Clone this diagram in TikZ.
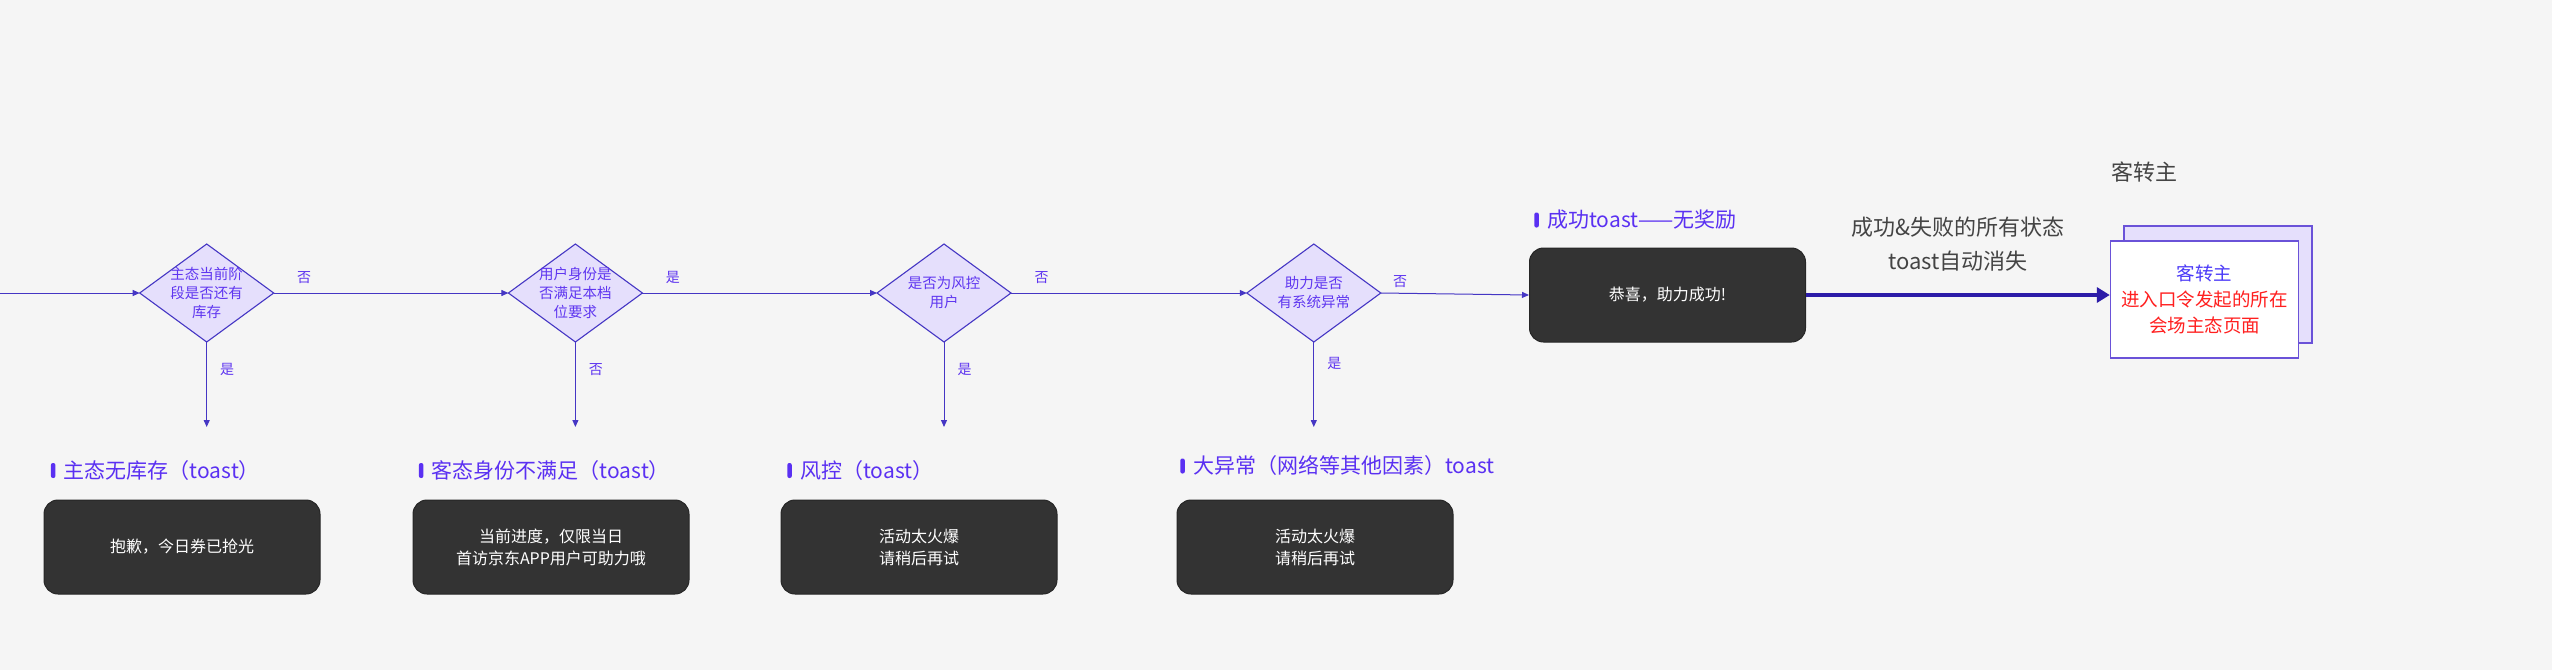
\documentclass[tikz,border=0pt]{standalone}
\usepackage{fontspec}
\setmainfont{Noto Sans CJK SC}
\usepackage{xcolor}
\usetikzlibrary{shapes.geometric,arrows.meta,positioning}
\definecolor{bgc}{HTML}{F5F5F5}
\definecolor{linec}{HTML}{4536C4}
\definecolor{diafill}{HTML}{E5DFFC}
\definecolor{diatxt}{HTML}{5F36F0}
\definecolor{headc}{HTML}{5A30F2}
\definecolor{toastc}{HTML}{333333}
\definecolor{grayt}{HTML}{444444}
\definecolor{bigc}{HTML}{2C1CA8}
\definecolor{boxline}{HTML}{6A52D8}
\definecolor{kzblue}{HTML}{4B3AF8}
\definecolor{kzred}{HTML}{FF1F1F}

\begin{document}
\begin{tikzpicture}[x=1pt,y=-1pt,
  dia/.style={diamond,draw=linec,fill=diafill,line width=1.1pt,minimum width=134pt,minimum height=98pt,inner sep=0pt,outer sep=0pt},
  diatext/.style={text=diatxt,align=center,font=\fontsize{14.5}{19}\selectfont},
  flow/.style={draw=linec,line width=1pt,-{Triangle[length=7pt,width=6pt]}},
  bigflow/.style={draw=bigc,line width=3.5pt,-{Triangle[length=13pt,width=15pt]}},
  lab/.style={text=diatxt,inner sep=0pt,font=\fontsize{14}{14}\selectfont},
  toast/.style={fill=toastc,draw=black!85,line width=1pt,rounded corners=14pt,minimum width=276pt,minimum height=94pt,text=white,align=center,font=\fontsize{16}{22}\selectfont},
  headline/.style={anchor=west,inner sep=0pt,text=headc,font=\fontsize{21}{21}\selectfont},
  tick/.style={fill=headc,rounded corners=2pt,minimum width=4.5pt,minimum height=15pt,inner sep=0pt},
  kzbox/.style={draw=boxline,line width=1.4pt,minimum width=188pt,minimum height=117pt,inner sep=0pt}]
\useasboundingbox (0,0) rectangle (2552,670);
\fill[bgc] (0,0) rectangle (2552,670);

\node[dia] (d1) at (206.7,293) {};
\node[diatext] (t1) at (d1) {主态当前阶\\段是否还有\\库存};
\node[dia] (d2) at (575.4,293) {};
\node[diatext] (t2) at (d2) {用户身份是\\否满足本档\\位要求};
\node[dia] (d3) at (944,293) {};
\node[diatext] (t3) at (d3) {是否为风控\\用户};
\node[dia] (d4) at (1313.8,293) {};
\node[diatext] (t4) at (d4) {助力是否\\有系统异常};

\node[toast] (s) at (1667.5,295) {恭喜，助力成功!};
\node[headline] (hs) at (1547,220) {成功toast——无奖励};
\node[tick,left=8pt of hs] (ks) {};

\coordinate (in0) at (0,293);
\draw[flow] (in0) -- (d1.west);
\draw[flow] (d1.east) -- node[lab,pos=0.13,above=9pt] {否} (d2.west);
\draw[flow] (d2.east) -- node[lab,pos=0.13,above=9pt] {是} (d3.west);
\draw[flow] (d3.east) -- node[lab,pos=0.13,above=9pt] {否} (d4.west);
\draw[flow] (d4.east) -- node[lab,pos=0.13,above=5pt] {否} (s.west);

\coordinate (e1) at (206.7,427);
\coordinate (e2) at (575.4,427);
\coordinate (e3) at (944,427);
\coordinate (e4) at (1313.8,427);
\draw[flow] (d1.south) -- node[lab,pos=0.32,right=13pt] {是} (e1);
\draw[flow] (d2.south) -- node[lab,pos=0.32,right=13pt] {否} (e2);
\draw[flow] (d3.south) -- node[lab,pos=0.32,right=13pt] {是} (e3);
\draw[flow] (d4.south) -- node[lab,pos=0.25,right=13pt] {是} (e4);

\node[headline] (h1) at (63.6,470.5) {主态无库存（toast）};
\node[tick,left=8pt of h1] (k1) {};
\node[headline] (h2) at (431.6,470.5) {客态身份不满足（toast）};
\node[tick,left=8pt of h2] (k2) {};
\node[headline] (h3) at (800,470.5) {风控（toast）};
\node[tick,left=8pt of h3] (k3) {};
\node[headline] (h4) at (1193,466) {大异常（网络等其他因素）toast};
\node[tick,left=8pt of h4] (k4) {};

\node[toast] (b1) at (182,547) {抱歉，今日券已抢光};
\node[toast] (b2) at (551,547) {当前进度，仅限当日\\首访京东APP用户可助力哦};
\node[toast] (b3) at (919,547) {活动太火爆\\请稍后再试};
\node[toast] (b4) at (1315,547) {活动太火爆\\请稍后再试};

\node[kzbox,fill=diafill] (kb) at (2218,284.5) {};
\node[kzbox,fill=white,align=center,font=\fontsize{18.5}{26}\selectfont] (kf) at (2204.5,299.5) {\textcolor{kzblue}{客转主}\\\textcolor{kzred}{进入口令发起的所在}\\\textcolor{kzred}{会场主态页面}};
\node[text=grayt,font=\fontsize{22}{22}\selectfont] (kt) at (2144,172) {客转主};

\draw[bigflow] (s.east) -- (s.east -| kf.west);
\node[text=grayt,align=center,font=\fontsize{22}{34}\selectfont] (note) at (1958,244) {成功\&失败的所有状态\\toast自动消失};
\end{tikzpicture}
\end{document}
